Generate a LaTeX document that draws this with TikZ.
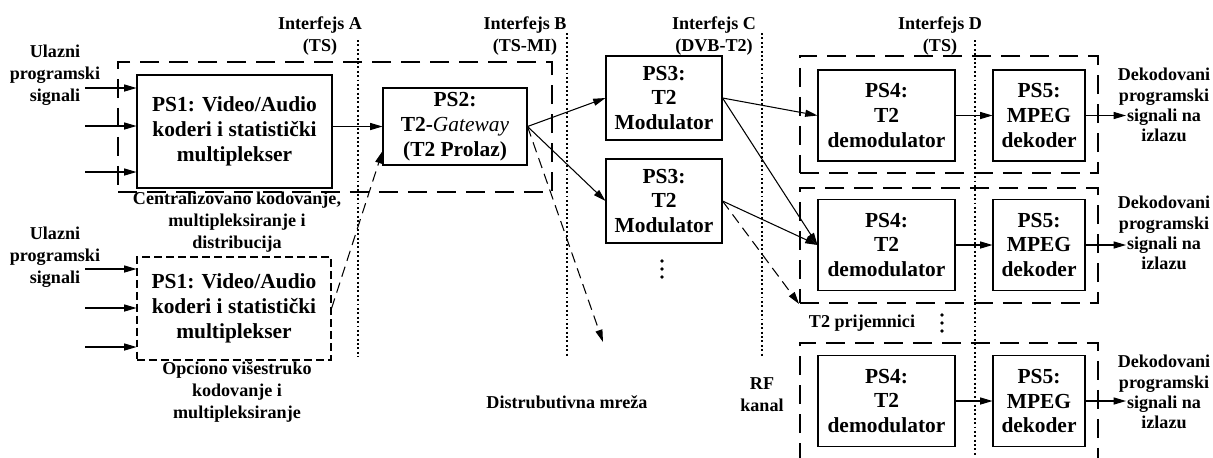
\documentclass[tikz,border=0pt]{standalone}
\usepackage{fontspec}
\setmainfont{Liberation Serif}
\usetikzlibrary{arrows.meta}

\begin{document}
\begin{tikzpicture}[x=0.02cm, y=-0.02cm,
    blok/.style={draw, line width=0.6pt, inner sep=0pt, align=center,
        font=\bfseries\fontsize{12.2}{14.2}\selectfont},
    opcija/.style={blok, dash pattern=on 4.5pt off 2.3pt},
    modulator/.style={blok, minimum width=2.32cm, minimum height=1.68cm},
    prijemnik/.style={blok, minimum width=2.74cm, minimum height=1.82cm},
    dekoder/.style={blok, minimum width=1.84cm, minimum height=1.82cm},
    grupa/.style={draw, line width=1.1pt, dash pattern=on 11pt off 5.5pt, inner sep=0pt},
    granica/.style={line width=1.1pt, dash pattern=on 1.1pt off 1.4pt},
    oznaka/.style={align=center, font=\bfseries\fontsize{10.3}{12.5}\selectfont},
    veza/.style={-{Triangle[length=7pt,width=4pt]}, line width=0.6pt},
    opveza/.style={veza, dash pattern=on 6pt off 3.5pt}]
    \useasboundingbox (0,0) rectangle (1213,457);

    % Interfejsi
    \draw[granica] (358,40) -- (358,357);
    \draw[granica] (567,33) -- (567,357);
    \draw[granica] (762,33) -- (762,357);
    \draw[granica] (975,40) -- (975,457);
    \node[oznaka] (intA) at (320,36) {Interfejs A\\(TS)};
    \node[oznaka] (intB) at (525,36) {Interfejs B\\(TS-MI)};
    \node[oznaka] (intC) at (714,36) {Interfejs C\\(DVB-T2)};
    \node[oznaka] (intD) at (940,36) {Interfejs D\\(TS)};

    % Centralno kodovanje i distribucija
    \node[grupa, minimum width=8.68cm, minimum height=2.6cm] (centralno) at (335,127) {};
    \node[blok, minimum width=3.9cm, minimum height=2.26cm] (ps1) at (234.5,131.5)
        {PS1: Video/Audio\\koderi i statistički\\multiplekser};
    \node[opcija, minimum width=3.88cm, minimum height=2.06cm] (ps1o) at (234,308.5)
        {PS1: Video/Audio\\koderi i statistički\\multiplekser};
    \node[blok, minimum width=2.88cm, minimum height=1.54cm] (ps2) at (455,126.5)
        {PS2:\\T2-{\mdseries\itshape Gateway}\\(T2 Prolaz)};
    \node[oznaka] (ulaz1) at (55,75) {Ulazni\\programski\\signali};
    \node[oznaka] (ulaz2) at (55,257) {Ulazni\\programski\\signali};
    \node[oznaka] (centr) at (237,222) {Centralizovano kodovanje,\\multipleksiranje i\\distribucija};
    \node[oznaka] (opc) at (237,392) {Opciono višestruko\\kodovanje i\\multipleksiranje};

    % Ulazi
    \foreach \y [count=\i] in {88,126,172} {
        \coordinate (ula\i) at (85,\y);
        \draw[veza] (ula\i) -- (ps1.west |- ula\i);
    }
    \foreach \y [count=\i] in {269,308,347} {
        \coordinate (ulb\i) at (85,\y);
        \draw[veza] (ulb\i) -- (ps1o.west |- ulb\i);
    }
    \draw[veza] (ps1.east |- ps2.west) -- (ps2.west);
    \draw[opveza] (ps1o.east) -- ([yshift=-14pt]ps2.west);

    % Modulatori
    \node[modulator] (ps3a) at (664,98) {PS3:\\T2\\Modulator};
    \node[modulator] (ps3b) at (664,201) {PS3:\\T2\\Modulator};
    \foreach \d in {-8,0,8} \fill (662,269+\d) circle (1.1pt);
    \coordinate (mreza) at (603,342);
    \draw[veza] (ps2.east) -- (ps3a.west);
    \draw[veza] (ps2.east) -- (ps3b.west);
    \draw[opveza] (ps2.east) -- (mreza);
    \node[oznaka] (distr) at (567,402) {Distrubutivna mreža};
    \node[oznaka] (rf) at (762,395) {RF\\kanal};

    % Prijemnici
    \node[grupa, minimum width=5.96cm, minimum height=2.34cm] (prijem1) at (949,114.5) {};
    \node[grupa, minimum width=5.96cm, minimum height=2.3cm] (prijem2) at (949,245.5) {};
    \draw[grupa] (800,462) |- (1098,343) -- (1098,462);
    \node[oznaka] (prijem) at (862,323) {T2 prijemnici};
    \foreach \d in {-8,0,8} \fill (942,323+\d) circle (1.1pt);

    \foreach \n/\y/\t in {a/115.5/105, b/245/233, c/401/392} {
        \node[prijemnik] (ps4\n) at (886.5,\y) {PS4:\\T2\\demodulator};
        \node[dekoder] (ps5\n) at (1039,\y) {PS5:\\MPEG\\dekoder};
        \coordinate (izl\n) at (1126,\y);
        \node[oznaka, font=\bfseries\fontsize{10.3}{11.5}\selectfont] (izlaz\n) at (1164,\t)
            {Dekodovani\\programski\\signali na\\izlazu};
        \draw[veza] (ps4\n) -- (ps5\n);
        \draw[veza] (ps5\n) -- (izl\n);
    }

    \draw[veza] (ps3a.east) -- (ps4a.west);
    \draw[veza] (ps3a.east) -- (ps4b.west);
    \draw[veza] (ps3b.east) -- (ps4b.west);
    \draw[opveza] (ps3b.east) -- (prijem2.south west);
\end{tikzpicture}
\end{document}
